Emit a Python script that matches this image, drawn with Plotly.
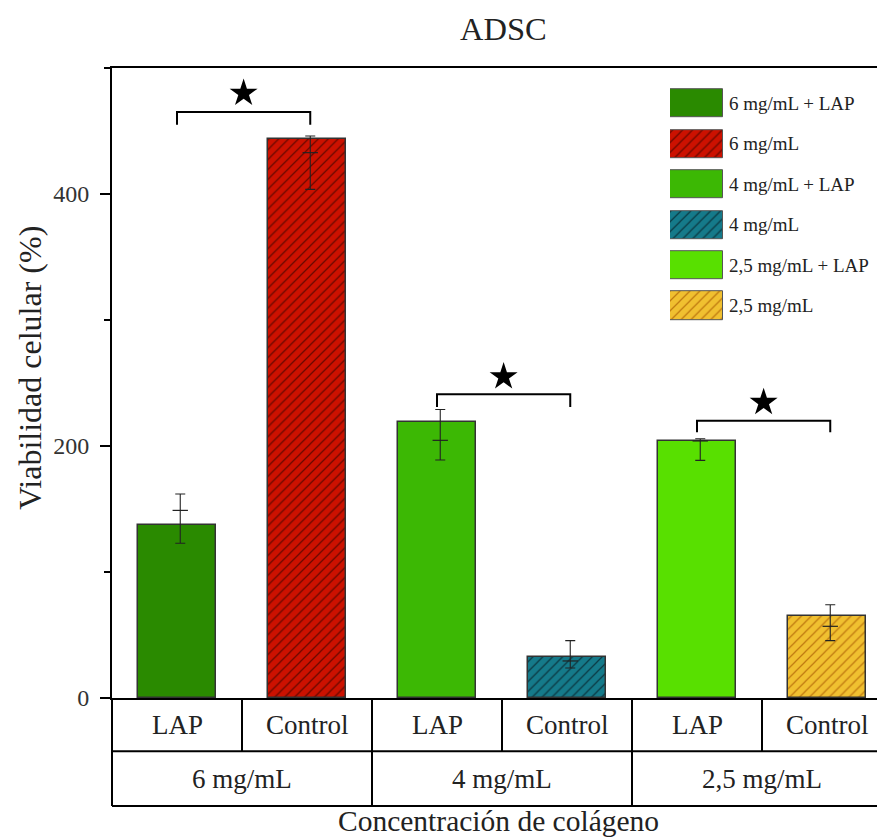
import plotly.graph_objects as go

# ---------------- data ----------------
categories = ["6 mg/mL + LAP", "6 mg/mL", "4 mg/mL + LAP", "4 mg/mL", "2,5 mg/mL + LAP", "2,5 mg/mL"]
sub_labels = ["LAP", "Control", "LAP", "Control", "LAP", "Control"]
group_labels = ["6 mg/mL", "4 mg/mL", "2,5 mg/mL"]
viability = [137.3, 443.4, 219.0, 32.8, 204.0, 64.8]
err_center = [148.9, 432.8, 204.5, 29.4, 204.0, 56.9]
err_plus = [13.0, 13.2, 24.5, 16.1, 1.8, 17.1]
err_minus = [26.1, 29.1, 15.6, 5.6, 15.4, 11.4]
bar_colors = ["#2a8a00", "#cc1100", "#3cb804", "#157a8a", "#58e000", "#f0c030"]
hatch_shapes = ["", "/", "", "/", "", "/"]
hatch_colors = ["#2a8a00", "#6a0800", "#3cb804", "#0b3a44", "#58e000", "#c07a10"]
sig_pairs = [(0, 1), (2, 3), (4, 5)]
sig_heights = [465, 241, 220]
sig_drop = [10, 10, 9]
star_heights = [480, 255, 234.6]
y_ticks = [0, 200, 400]

# ---------------- layout geometry ----------------
# the page body adds an 8px margin, so the figure is drawn 8px smaller and
# all reference pixel positions are shifted by 8px.
PAGE_OFF = 8
W, H = 885 - PAGE_OFF, 839 - PAGE_OFF
REF_LEFT, REF_TOP, REF_BOTTOM = 112, 68, 698.3
ML = REF_LEFT - PAGE_OFF
MT = REF_TOP - PAGE_OFF
MB = H - (REF_BOTTOM - PAGE_OFF)
plot_w = W - ML
plot_h = H - MT - MB
slot_px = 130
x_min = -0.5
x_max = x_min + plot_w / slot_px
y_max = 500
off = 0.025

x_pos = list(range(len(categories)))
err_x = [x + off for x in x_pos]


def px(v):
    return (v - x_min) / (x_max - x_min)


def ref_x(pix):
    return (pix - REF_LEFT) / plot_w


def ref_y(pix):
    return (REF_BOTTOM - pix) / plot_h


serif = "Liberation Serif, DejaVu Serif, Noto Serif, Times New Roman, serif"
txt = "#222222"


def pattern(i):
    if hatch_shapes[i]:
        return dict(shape=hatch_shapes[i], fgcolor=hatch_colors[i], bgcolor=bar_colors[i],
                    size=7, solidity=0.18, fillmode="replace")
    return dict(shape="")


fig = go.Figure()

for i in range(len(categories)):
    fig.add_trace(go.Bar(
        x=[x_pos[i]], y=[viability[i]], width=0.6, name=categories[i],
        marker=dict(color=bar_colors[i], line=dict(color="#333333", width=1.5), pattern=pattern(i)),
        showlegend=False, hoverinfo="skip",
    ))

fig.add_trace(go.Scatter(
    x=err_x, y=err_center, mode="markers",
    marker=dict(symbol="line-ew", size=11, color=txt, line=dict(width=1.2, color=txt)),
    error_y=dict(type="data", symmetric=False, array=err_plus, arrayminus=err_minus,
                 color=txt, thickness=1.1, width=5),
    showlegend=False, hoverinfo="skip",
))

# significance brackets and stars
star_x = []
for (i, j), h, d in zip(sig_pairs, sig_heights, sig_drop):
    x0, x1 = err_x[i] - off, err_x[j]
    fig.add_shape(type="path", xref="x", yref="y",
                  path=f"M {x0} {h - d} L {x0} {h} L {x1} {h} L {x1} {h - d}",
                  line=dict(color="black", width=2))
    star_x.append((x0 + x1) / 2)
fig.add_trace(go.Scatter(
    x=star_x, y=star_heights, mode="markers",
    marker=dict(symbol="star", size=21, color="black"),
    showlegend=False, hoverinfo="skip",
))

# legend as a small subplot of swatches
leg_rows = list(range(len(categories)))
for i in leg_rows:
    fig.add_trace(go.Bar(
        x=[1], y=[i], orientation="h", width=0.7, xaxis="x2", yaxis="y2",
        marker=dict(color=bar_colors[i], line=dict(color="#555555", width=1), pattern=pattern(i)),
        showlegend=False, hoverinfo="skip",
    ))
row_px = 40.5
leg_top = 83.2
leg_bot = leg_top + row_px * len(categories)
for r, name in zip(leg_rows, categories):
    fig.add_annotation(x=ref_x(727), y=r, xref="paper", yref="y2", text=name,
                       showarrow=False, xanchor="left", yanchor="middle",
                       font=dict(family=serif, size=19, color=txt))

# table below x axis
row1 = ref_y(751.7)
row2 = ref_y(806.3)
shapes = []
for b in [-0.5, 1.5, 3.5]:
    shapes.append(dict(type="line", xref="paper", yref="paper", x0=px(b), x1=px(b), y0=0, y1=row2))
for b in [0.5, 2.5, 4.5]:
    shapes.append(dict(type="line", xref="paper", yref="paper", x0=px(b), x1=px(b), y0=0, y1=row1))
for yy in [row1, row2]:
    shapes.append(dict(type="line", xref="paper", yref="paper", x0=0, x1=1, y0=yy, y1=yy))
for s in shapes:
    s["line"] = dict(color="black", width=2)
    fig.add_shape(**s)

for x, lab in zip(x_pos, sub_labels):
    fig.add_annotation(x=x, y=(0 + row1) / 2, xref="x", yref="paper", text=lab, showarrow=False,
                       yanchor="middle", font=dict(family=serif, size=27, color=txt))
for g, lab in enumerate(group_labels):
    fig.add_annotation(x=2 * g + 0.5, y=(row1 + row2) / 2, xref="x", yref="paper", text=lab,
                       showarrow=False, yanchor="middle", font=dict(family=serif, size=27, color=txt))

fig.add_annotation(x=ref_x(498), y=ref_y(821), xref="paper", yref="paper", text="Concentración de colágeno",
                   showarrow=False, yanchor="middle", font=dict(family=serif, size=29.5, color=txt))
fig.add_annotation(x=ref_x(503), y=ref_y(29), xref="paper", yref="paper", text="ADSC",
                   showarrow=False, yanchor="middle", font=dict(family=serif, size=32.5, color=txt))
fig.add_annotation(x=ref_x(30), y=ref_y(368), xref="paper", yref="paper",
                   text="Viabilidad celular (%)", textangle=-90,
                   showarrow=False, xanchor="center", yanchor="middle",
                   font=dict(family=serif, size=32, color=txt))

fig.update_layout(
    width=W, height=H,
    margin=dict(l=ML, r=0, t=MT, b=MB, autoexpand=False),
    paper_bgcolor="white", plot_bgcolor="white",
    barmode="overlay", bargap=0,
    xaxis=dict(range=[x_min, x_max], showgrid=False, zeroline=False, showticklabels=False,
               ticks="", showline=True, mirror=True, linecolor="black", linewidth=2),
    yaxis=dict(range=[0, y_max], showgrid=False, zeroline=False, tickvals=y_ticks,
               ticks="outside", ticklen=10, tickwidth=2, tickcolor="black",
               showline=True, linecolor="black", linewidth=2, ticklabelstandoff=6,
               tickfont=dict(family=serif, size=24, color="#333333"),
               minor=dict(dtick=100, tick0=0, ticks="outside", ticklen=6, tickwidth=2, tickcolor="black")),
    xaxis2=dict(domain=[ref_x(670), ref_x(723.3)], range=[0, 1], visible=False, anchor="y2"),
    yaxis2=dict(domain=[ref_y(leg_bot), ref_y(leg_top)], range=[len(categories) - 0.5, -0.5],
                visible=False, anchor="x2"),
)

fig.write_html("out.html")
